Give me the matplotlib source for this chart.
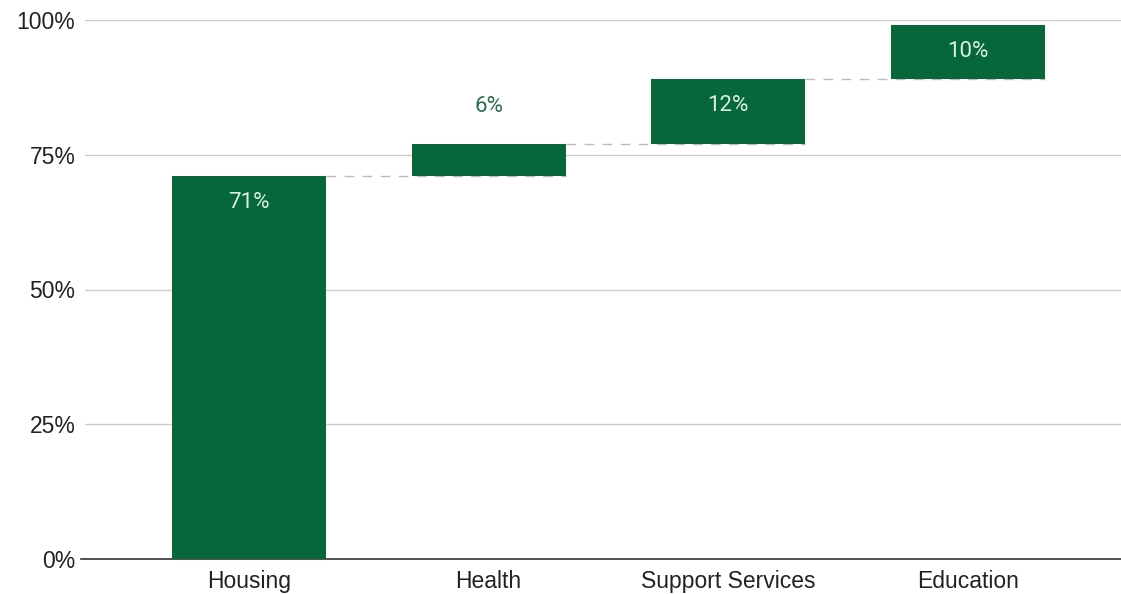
import numpy as np
import matplotlib.pyplot as plt

categories = ['Housing', 'Health', 'Support Services', 'Education']
values = [71, 6, 12, 10]
label_inside = [True, False, True, True]
y_ticks = [0, 25, 50, 75, 100]

green = '#05673a'

ends = np.cumsum(values)
starts = ends - np.array(values)
x = np.arange(len(categories))
width = 0.643

fig = plt.figure(figsize=(11.21, 5.94), dpi=100)
ax = fig.add_axes([85 / 1121, 35 / 594, 1 - 85 / 1121, 539 / 594])

ax.set_ylim(0, 100)
ax.set_xlim(-0.684, 3.638)
ax.set_yticks(y_ticks)
ax.set_yticklabels([f'{t}%' for t in y_ticks], fontsize=16.5, family='Liberation Sans', color='#222222')
ax.set_xticks(x)
ax.set_xticklabels(categories, fontsize=16.5, family='Liberation Sans', color='#222222')
ax.tick_params(axis='both', length=0)
ax.tick_params(axis='y', pad=7)
ax.tick_params(axis='x', pad=8)
for t in y_ticks[1:]:
    ax.axhline(t, color='#cccccc', lw=1, zorder=0)
for s in ['top', 'right', 'left']:
    ax.spines[s].set_visible(False)
ax.spines['bottom'].set_color('#333333')
ax.spines['bottom'].set_linewidth(1.2)
ax.spines['bottom'].set_bounds(-0.70, 3.7)
ax.spines['bottom'].set_clip_on(False)

ax.bar(x, values, bottom=starts, width=width, color=green, zorder=3)

# connector lines
for i in range(len(x) - 1):
    ax.plot([x[i] + width / 2, x[i + 1] + width / 2], [ends[i], ends[i]],
            color='#bbbbbb', lw=1, ls=(0, (7, 6)), zorder=2)

for i in range(len(x)):
    if label_inside[i]:
        ax.annotate(f'{values[i]}%', (x[i], ends[i]), xytext=(0, -19), textcoords='offset points',
                    ha='center', va='center', fontsize=16, family='Roboto', color='#dcefe3', zorder=4)
    else:
        ax.annotate(f'{values[i]}%', (x[i], ends[i]), xytext=(0, 27), textcoords='offset points',
                    ha='center', va='center', fontsize=16, family='Roboto', color='#2a6e4b', zorder=4)

fig.savefig('out.png', dpi=100)
